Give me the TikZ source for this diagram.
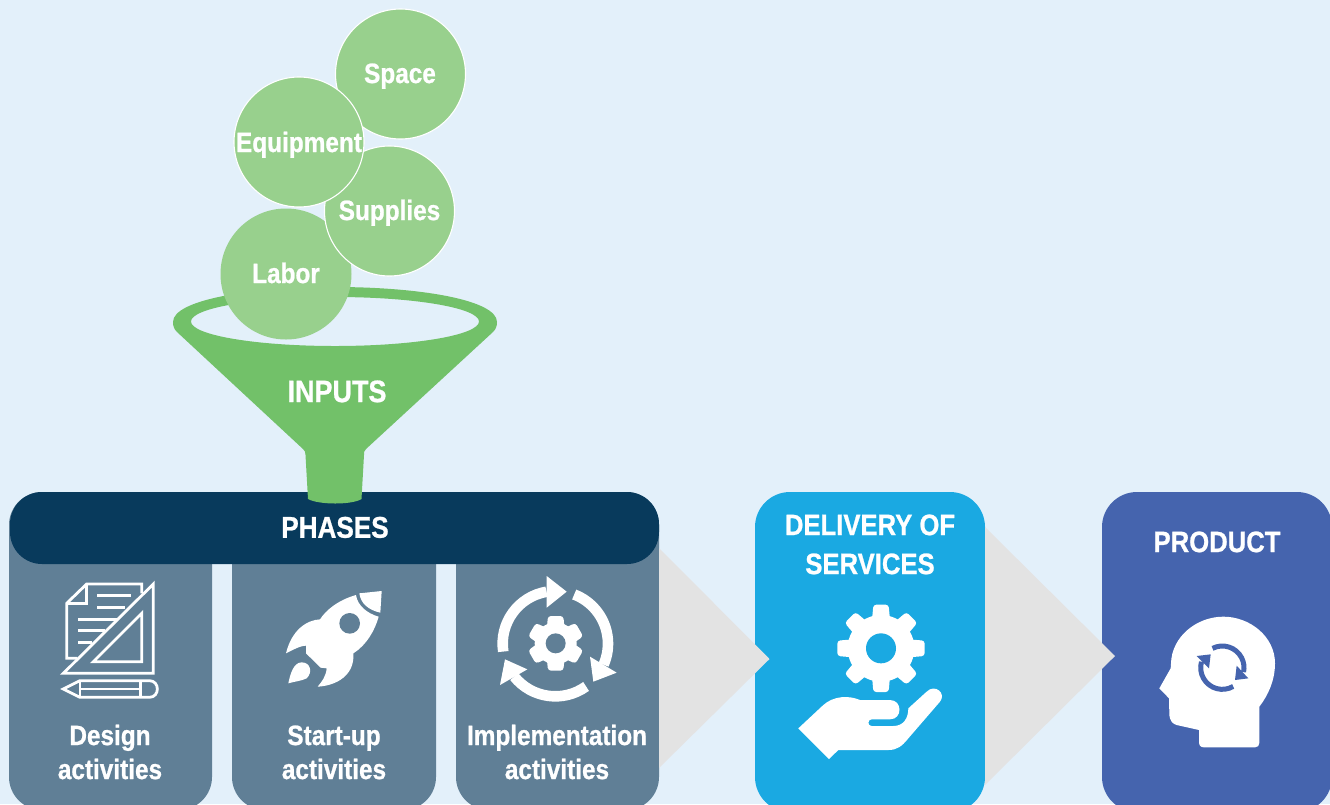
\documentclass[tikz,border=0pt]{standalone}
\usepackage{fontspec}
\setmainfont{Liberation Sans}[BoldFeatures={FakeStretch=0.87,FakeBold=0.8}]
\definecolor{bgc}{HTML}{E3F0FA}
\definecolor{slate}{HTML}{607F96}
\definecolor{navy}{HTML}{083A5C}
\definecolor{fgreen}{HTML}{72C169}
\definecolor{cgreen}{HTML}{98D08D}
\definecolor{cyanb}{HTML}{1AA9E2}
\definecolor{blueb}{HTML}{4564AE}
\definecolor{tri}{HTML}{E3E3E3}
\tikzset{
  lbl/.style={text=white,font=\bfseries\fontsize{#1}{#1}\selectfont,inner sep=0pt,align=center,text height=0.716*#1 pt,text depth=0pt},
  lbl/.default=28,
  panel/.style={rounded corners=33pt,fill=slate},
  ball/.style={circle,fill=cgreen,draw=white,line width=1.1pt,minimum size=130pt,inner sep=0pt},
  iconline/.style={draw=white,line width=2.8pt,line join=miter,fill=none},
  ring/.style={draw=white,line width=10.6pt},
  zoomed/.style={x=0.33333pt,y=-0.33333pt}
}
\newcommand{\gearicon}[7]{% cx cy rout rbody n topw basew
  \fill[white] (#1,#2) circle[radius=#4];
  \foreach \k in {1,...,#5}{
    \begin{scope}[shift={(#1,#2)},rotate=\k*360/#5]
      \fill[white,rounded corners=3pt] (-#7,0) -- (-#6,-#3) -- (#6,-#3) -- (#7,0) -- cycle;
    \end{scope}
  }
}
\begin{document}
\begin{tikzpicture}[x=1pt,y=-1pt]
\useasboundingbox (0,0) rectangle (1330,804);
\clip (0,0) rectangle (1330,804);
\fill[bgc] (0,0) rectangle (1330,804);
% panels
\fill[panel] (9,492) rectangle (212,810);
\fill[panel] (232,492) rectangle (436,810);
\fill[panel] (456,492) rectangle (659,810);
\fill[cyanb,rounded corners=35pt] (755,492) rectangle (985,812);
\fill[blueb,rounded corners=35pt] (1102,492) rectangle (1332,812);
\fill[tri] (659,548) -- (769.5,659) -- (659,768) -- cycle;
\fill[tri] (985,527) -- (1115,656) -- (985,785) -- cycle;
\fill[navy,rounded corners=32pt] (10,492) rectangle (659,564);
% funnel
\fill[fgreen,even odd rule,rounded corners=0pt]
  (335,321.5) ellipse[x radius=144,y radius=24.5]
  (173,322) .. controls (173,300) and (250,287) .. (335,287) .. controls (420,287) and (497,300) .. (497,322)
  .. controls (497,326) and (496,329) .. (493,332)
  -- (366,449) .. controls (364,451) and (364,452) .. (364,455)
  -- (361.5,499) .. controls (352,505) and (319,505) .. (308,499)
  -- (305.5,455) .. controls (305.5,452) and (305,451) .. (303,449)
  -- (177,332) .. controls (174,329) and (173,326) .. (173,322) -- cycle;
% balls
\node[circle,fill=cgreen,minimum size=131pt,inner sep=0pt] (labor) at (286,274) {};
\node[ball] (space) at (400.5,74) {};
\node[ball] (supplies) at (389.5,211) {};
\node[ball] (equipment) at (299,142) {};
% texts
\node[lbl=28] (tspace) at (400,73) {Space};
\node[lbl=28] (tequip) at (299,142) {Equipment};
\node[lbl=28] (tsup) at (389.5,210) {Supplies};
\node[lbl=28] (tlabor) at (286,273) {Labor};
\node[lbl=31] (tinputs) at (337,391) {INPUTS};
\node[lbl=30] (tphases) at (335,527) {PHASES};
\node[lbl=28] (td1) at (110,735) {Design};
\node[lbl=28] (td2) at (110,769) {activities};
\node[lbl=28] (ts1) at (334,735) {Start-up};
\node[lbl=28] (ts2) at (334,769) {activities};
\node[lbl=28] (ti1) at (557,735) {Implementation};
\node[lbl=28] (ti2) at (557,769) {activities};
\node[lbl=29.5] (tdel1) at (870,524.5) {DELIVERY OF};
\node[lbl=29.5] (tdel2) at (870,563.5) {SERVICES};
\node[lbl=29.5] (tprod) at (1217,541.5) {PRODUCT};
% design icon
\begin{scope}[xshift=20pt,yshift=-560pt,zoomed]
  \draw[iconline] (172,295) -- (140,295) -- (140,130) -- (200,72) -- (365,72) -- (365,100);
  \draw[iconline] (200,72) -- (200,130) -- (140,130);
  \draw[iconline] (232,107) -- (332,107) (232,142) -- (315,142) (175,178) -- (290,178) (175,212) -- (255,212) (175,247) -- (215,247);
  \draw[iconline] (400,72) -- (400,340) -- (130,340) -- cycle;
  \draw[iconline] (365,160) -- (365,305) -- (220,305) -- cycle;
  \draw[iconline] (130,387) -- (180,362) -- (388,362) .. controls (420,362) and (420,412) .. (388,412) -- (180,412) -- cycle;
  \draw[iconline] (180,362) -- (180,412) (362,362) -- (362,412) (180,387) -- (362,387);
\end{scope}
% rocket
\begin{scope}[xshift=270pt,yshift=-575pt,zoomed]
  \fill[white] (268,55) -- (335,48) -- (331,113) .. controls (295,105) and (272,85) .. (268,55) -- cycle;
  \fill[white] (258,60) .. controls (205,75) and (168,105) .. (150,133)
     .. controls (110,135) and (65,165) .. (48,235)
     .. controls (62,228) and (90,212) .. (108,212) -- (108,235) -- (152,278) -- (170,280)
     .. controls (168,305) and (155,320) .. (143,335)
     .. controls (200,332) and (255,300) .. (250,235)
     .. controls (290,210) and (315,165) .. (326,125)
     .. controls (290,115) and (262,90) .. (258,60) -- cycle;
  \fill[slate] (239,145) circle[radius=31];
  \fill[white] (55,325) .. controls (60,300) and (70,262) .. (95,262)
     .. controls (120,262) and (130,290) .. (110,310)
     .. controls (95,318) and (70,320) .. (55,325) -- cycle;
\end{scope}
% cycle icon
\begin{scope}[xshift=450pt,yshift=-560pt,zoomed]
  \draw[ring] (316,251) ++(171.4:158) arc[start angle=171.4,end angle=260.4,radius=158];
  \fill[white] (350,95) -- (290,48) -- (290,143) -- cycle;
  \draw[ring] (316,251) ++(-69:158) arc[start angle=-69,end angle=23.6,radius=158];
  \fill[white] (430,365) -- (420,290) -- (500,338) -- cycle;
  \draw[ring] (316,251) ++(54.3:158) arc[start angle=54.3,end angle=141.3,radius=158];
  \fill[white] (165,298) -- (232,328) -- (150,375) -- cycle;
  \gearicon{317}{250}{82}{63}{6}{23}{31}
  \fill[slate] (317,250) circle[radius=30];
\end{scope}
% service gear and hand
\begin{scope}[xshift=780pt,yshift=-590pt,zoomed]
  \gearicon{303}{175}{131}{100}{8}{23}{34}
  \fill[cyanb] (303,175) circle[radius=45];
  \fill[white] (55,415) -- (130,345) .. controls (160,318) and (205,315) .. (240,330) -- (330,330)
    .. controls (368,330) and (368,388) .. (330,388) -- (275,388)
    .. controls (262,388) and (262,408) .. (275,408) -- (340,408)
    .. controls (370,408) and (385,385) .. (385,355) -- (440,305)
    .. controls (465,280) and (500,310) .. (480,335) -- (385,445)
    .. controls (365,470) and (350,480) .. (325,480) -- (175,480) -- (147,507) -- cycle;
\end{scope}
% head
\begin{scope}[xshift=1140pt,yshift=-600pt,zoomed]
  \fill[white] (177,390) -- (177,425) .. controls (177,437) and (182,442) .. (192,442) -- (345,442)
    .. controls (354,442) and (358,437) .. (358,428) -- (358,320)
    .. controls (385,285) and (405,240) .. (405,190)
    .. controls (405,110) and (330,50) .. (250,50)
    .. controls (170,50) and (95,110) .. (93,190) -- (92,205) -- (58,265) -- (87,295) -- (88,340)
    .. controls (88,365) and (100,372) .. (110,375) -- cycle;
  \draw[blueb,line width=5pt] (247,203) ++(243:65) arc[start angle=243,end angle=372,radius=65];
  \fill[blueb] (285,240) -- (290,197) -- (325,235) -- cycle;
  \draw[blueb,line width=5pt] (247,203) ++(60:65) arc[start angle=60,end angle=196,radius=65];
  \fill[blueb] (212,163) -- (170,168) -- (207,205) -- cycle;
\end{scope}
\end{tikzpicture}
\end{document}
